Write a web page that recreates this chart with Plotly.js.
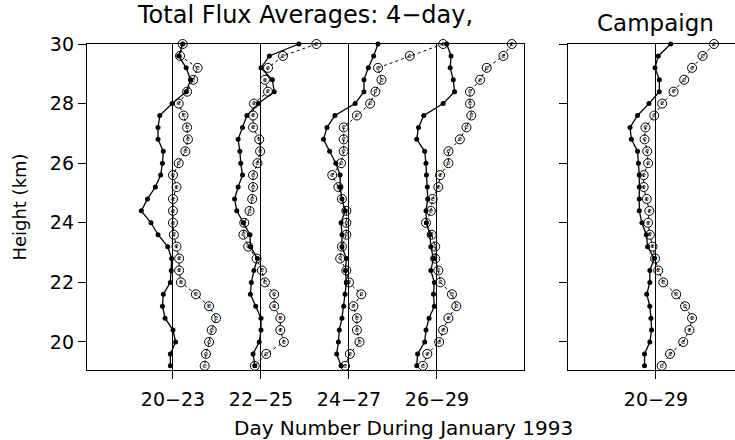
<!DOCTYPE html>
<html><head><meta charset="utf-8">
<script src="https://cdn.plot.ly/plotly-3.0.1.min.js"></script>
<style>html,body{margin:0;padding:0;background:#fff;}#chart{width:735px;height:440px;}</style>
</head><body><div id="chart"></div>
<script>
// Heights (km)
const heights = [30.0,29.6,29.2,28.8,28.4,28.0,27.6,27.2,26.8,26.4,26.0,25.6,25.2,24.8,24.4,24.0,23.6,23.2,22.8,22.4,22.0,21.6,21.2,20.8,20.4,20.0,19.6,19.2];

// 4-day period labels
const periods = ["20\u221223","22\u221225","24\u221227","26\u221229"];
const campaignPeriod = ["20\u221229"];

// Offsets from each period's reference line (filled = total flux, open = e)
const total_20_23 = [0.11,0.065,0.15,0.20,0.15,-0.01,-0.15,-0.17,-0.17,-0.11,-0.12,-0.14,-0.20,-0.29,-0.36,-0.25,-0.17,-0.06,-0.015,-0.02,-0.03,-0.11,-0.12,-0.09,0.0,0.03,-0.03,-0.03];
const e_20_23     = [0.11,0.08,0.28,0.23,0.16,0.065,0.12,0.16,0.17,0.14,0.065,0.0,0.04,0.0,0.0,0.0,0.01,0.04,0.07,0.07,0.09,0.26,0.41,0.49,0.44,0.41,0.375,0.36];

const total_22_25 = [0.43,0.095,0.0,0.13,0.15,-0.03,-0.16,-0.21,-0.26,-0.24,-0.23,-0.21,-0.26,-0.30,-0.275,-0.20,-0.125,-0.12,-0.04,-0.08,-0.11,-0.12,-0.06,0.0,0.0,-0.02,-0.09,-0.07];
const e_22_25     = [0.63,0.25,0.08,0.045,0.08,-0.08,-0.09,-0.09,-0.02,-0.01,-0.04,-0.09,-0.09,-0.10,-0.13,-0.19,-0.20,-0.145,-0.05,0.01,0.045,0.15,0.15,0.22,0.22,0.26,0.06,-0.07];

const total_24_27 = [0.33,0.28,0.22,0.17,0.17,0.07,-0.16,-0.25,-0.29,-0.22,-0.15,-0.10,-0.10,-0.08,-0.045,-0.09,-0.08,-0.08,-0.03,-0.04,-0.03,-0.045,-0.06,-0.08,-0.11,-0.12,-0.14,-0.09];
const e_24_27     = [1.07,0.69,0.33,0.37,0.30,0.24,0.09,-0.06,-0.06,-0.06,-0.09,-0.19,-0.12,-0.08,-0.03,-0.03,-0.03,-0.08,-0.10,-0.03,0.0,0.14,0.05,0.09,0.09,0.12,0.01,-0.045];

const total_26_29 = [0.11,0.16,0.15,0.185,0.20,0.07,-0.15,-0.21,-0.23,-0.14,-0.125,-0.12,-0.11,-0.105,-0.125,-0.12,-0.08,-0.07,-0.04,-0.07,-0.03,-0.04,-0.03,-0.09,-0.125,-0.14,-0.22,-0.23];
const e_26_29     = [0.85,0.755,0.565,0.49,0.375,0.375,0.39,0.335,0.26,0.13,0.13,0.035,0.015,-0.05,-0.07,-0.125,-0.06,-0.02,-0.02,0.015,0.04,0.17,0.22,0.13,0.07,0.025,-0.11,-0.16];

// Campaign average (20-29)
const total_20_29 = [0.167,0.026,-0.011,0.038,0.038,-0.08,-0.21,-0.295,-0.28,-0.21,-0.20,-0.19,-0.19,-0.19,-0.19,-0.16,-0.11,-0.095,-0.02,-0.07,-0.07,-0.105,-0.07,-0.057,-0.05,-0.07,-0.13,-0.13];
const e_20_29     = [0.66,0.53,0.41,0.32,0.20,0.07,-0.02,-0.12,-0.13,-0.10,-0.09,-0.14,-0.14,-0.105,-0.076,-0.09,-0.07,-0.04,-0.01,0.026,0.083,0.23,0.33,0.41,0.38,0.31,0.16,0.065];

const yTicks = [20,22,24,26,28,30];

const FONT = "DejaVu Sans, sans-serif";
const totals = [total_20_23,total_22_25,total_24_27,total_26_29];
const es = [e_20_23,e_22_25,e_24_27,e_26_29];

function filledTrace(vals, pos, xa, ya){
  return {x: vals.map(v=>v+pos), y: heights, xaxis: xa, yaxis: ya, type:'scatter', mode:'lines+markers',
    line:{color:'#000', width:1.3}, marker:{color:'#000', size:5}, cliponaxis:false, hoverinfo:'skip'};
}
function openTrace(vals, pos, xa, ya){
  return {x: vals.map(v=>v+pos), y: heights, xaxis: xa, yaxis: ya, type:'scatter', mode:'lines+markers+text',
    text: vals.map(()=> 'e'), textposition:'middle center', textfont:{family:FONT, size:7, color:'#000'},
    line:{color:'#000', width:1, dash:'dot'}, marker:{symbol:'circle-open', color:'#000', size:9, line:{width:1}},
    cliponaxis:false, hoverinfo:'skip'};
}

const traces = [];
for (let i=0;i<4;i++){
  traces.push(openTrace(es[i], i, 'x', 'y'));
  traces.push(filledTrace(totals[i], i, 'x', 'y'));
}
traces.push(openTrace(e_20_29, 0, 'x2', 'y2'));
traces.push(filledTrace(total_20_29, 0, 'x2', 'y2'));

const yRange = [19.06, 30];
const axCommon = {showline:true, linecolor:'#000', linewidth:1.2, zeroline:false, ticks:'outside', ticklen:8, tickcolor:'#000', tickwidth:1,
  tickfont:{family:FONT, size:19, color:'#000'}};

const layout = {
  width:735, height:440, margin:{l:87, r:0, t:44, b:70},
  paper_bgcolor:'#fff', plot_bgcolor:'#fff', showlegend:false,
  font:{family:FONT, color:'#000'},
  xaxis: Object.assign({}, axCommon, {domain:[0, 0.6744], range:[-0.977, 3.989], tickmode:'array', tickvals:[0,1,2,3], ticktext:periods,
    showgrid:true, gridcolor:'#000', gridwidth:1, mirror:true, anchor:'y', ticklabelstandoff:4}),
  yaxis: Object.assign({}, axCommon, {range:yRange, tickmode:'array', tickvals:yTicks, showgrid:false, mirror:true, anchor:'x',
    title:{text:'Height (km)', font:{family:FONT, size:18, color:'#000'}, standoff:18}}),
  xaxis2: Object.assign({}, axCommon, {domain:[0.7423, 1], range:[-1.0, 0.898], tickmode:'array', tickvals:[0], ticktext:campaignPeriod,
    showgrid:true, gridcolor:'#000', gridwidth:1, mirror:true, anchor:'y2', ticklabelstandoff:4}),
  yaxis2: Object.assign({}, axCommon, {range:yRange, tickmode:'array', tickvals:yTicks, showticklabels:false, showgrid:false, mirror:false, anchor:'x2'}),
  annotations:[
    {text:'Total Flux Averages: 4\u2212day,', xref:'paper', yref:'paper', x:0.336, y:1.09, showarrow:false, xanchor:'center', yanchor:'middle',
      font:{family:FONT, size:24, color:'#000'}},
    {text:'Campaign', xref:'paper', yref:'paper', x:0.877, y:1.065, showarrow:false, xanchor:'center', yanchor:'middle',
      font:{family:FONT, size:23, color:'#000'}},
    {text:'Day Number During January 1993', xref:'paper', yref:'paper', x:0.488, y:-0.178, showarrow:false, xanchor:'center', yanchor:'middle',
      font:{family:FONT, size:20, color:'#000'}}
  ]
};

Plotly.newPlot('chart', traces, layout, {staticPlot:true, displayModeBar:false});
</script>
</body></html>
